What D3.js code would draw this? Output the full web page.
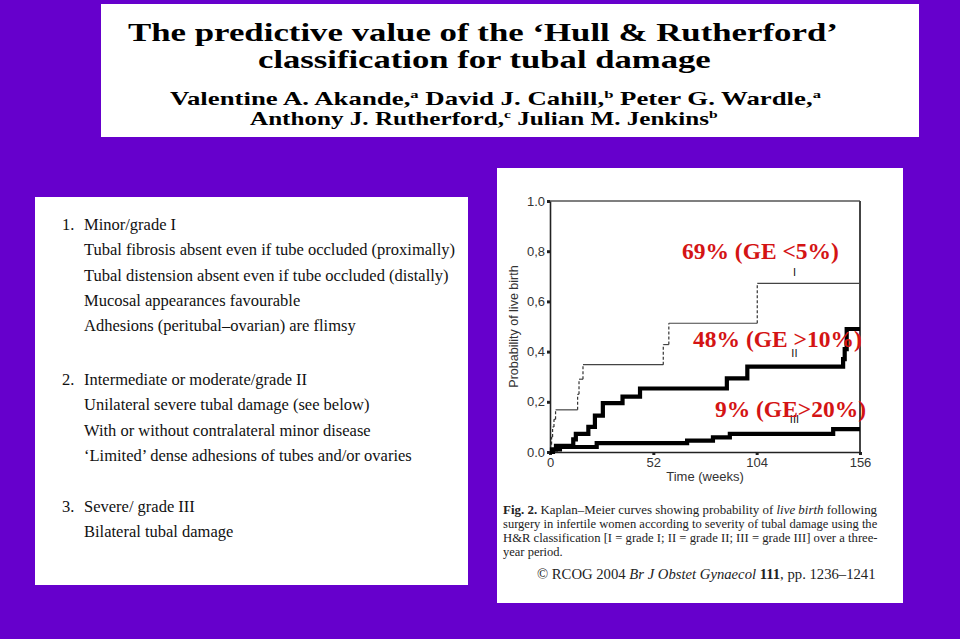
<!DOCTYPE html>
<html><head><meta charset="utf-8">
<script src="https://cdn.jsdelivr.net/npm/d3@7"></script>
<style>body{margin:0;background:#6600cc;} svg{display:block}</style>
</head><body>
<svg id="c" width="960" height="639"></svg>
<script>
// ---------------- DATA ----------------
const xTicks = [0, 52, 104, 156];
const xTickLabels = ["0", "52", "104", "156"];
const yTicks = [0, 0.2, 0.4, 0.6, 0.8, 1.0];
const yTickLabels = ["0.0", "0,2", "0,4", "0,6", "0,8", "1.0"];
const maxWeek = 156;

// Grade I (thin line, dashed risers)
const weeksI = [0, 0.3, 0.8, 1.3, 2.0, 2.8, 13.9, 14.6, 16.6, 57.0, 59.8, 104.3];
const probI  = [0, 0.03, 0.06, 0.10, 0.13, 0.168, 0.23, 0.29, 0.348, 0.428, 0.513, 0.672];
// Grade II (thick line)
const weeksII = [0, 1, 3, 11.7, 13, 19.3, 22.6, 26.6, 36.5, 45.3, 89, 99.3, 147.5, 148.3, 149.3];
const probII  = [0, 0.01, 0.025, 0.05, 0.072, 0.10, 0.145, 0.195, 0.221, 0.253, 0.293, 0.34, 0.37, 0.41, 0.49];
// Grade III (thick line)
const weeksIII = [0, 1.5, 5, 23.5, 69, 82, 90.5, 142.5];
const probIII  = [0, 0.01, 0.02, 0.035, 0.045, 0.058, 0.072, 0.091];

const curveLabels = ["I", "II", "III"];
const annotations = ["69% (GE <5%)", "48% (GE >10%)", "9% (GE>20%)"];

const titleLines = ["The predictive value of the \u2018Hull & Rutherford\u2019", "classification for tubal damage"];
const authorLines = [
  [["Valentine A. Akande,", ""], ["a", "sup"], [" David J. Cahill,", ""], ["b", "sup"], [" Peter G. Wardle,", ""], ["a", "sup"]],
  [["Anthony J. Rutherford,", ""], ["c", "sup"], [" Julian M. Jenkins", ""], ["b", "sup"]]
];
const gradeBlocks = [
  {num: "1.", lines: ["Minor/grade I", "Tubal fibrosis absent even if tube occluded (proximally)", "Tubal distension absent even if tube occluded (distally)", "Mucosal appearances favourable", "Adhesions (peritubal\u2013ovarian) are flimsy"]},
  {num: "2.", lines: ["Intermediate or moderate/grade II", "Unilateral severe tubal damage (see below)", "With or without contralateral minor disease", "\u2018Limited\u2019 dense adhesions of tubes and/or ovaries"]},
  {num: "3.", lines: ["Severe/ grade III", "Bilateral tubal damage"]}
];
const captionLines = [
  [["Fig. 2.", "b"], [" Kaplan\u2013Meier curves showing probability of ", ""], ["live birth", "i"], [" following", ""]],
  [["surgery in infertile women according to severity of tubal damage using the", ""]],
  [["H&R classification [I = grade I; II = grade II; III = grade III] over a three-", ""]],
  [["year period.", ""]]
];
const copyrightLine = [["\u00A9 RCOG 2004 ", ""], ["Br J Obstet Gynaecol", "i"], [" ", ""], ["111", "b"], [", pp. 1236\u20131241", ""]];

// ---------------- DRAWING ----------------
const SERIF = "'Liberation Serif','Times New Roman',serif";
const SANS = "'Liberation Sans',Arial,sans-serif";
const svg = d3.select("#c");
svg.append("rect").attr("width", 960).attr("height", 639).attr("fill", "#6600cc");

// panels
svg.append("rect").attr("x", 101).attr("y", 4).attr("width", 818).attr("height", 133).attr("fill", "#fff");
svg.append("rect").attr("x", 35).attr("y", 197).attr("width", 433).attr("height", 388).attr("fill", "#fff");
svg.append("rect").attr("x", 497).attr("y", 168).attr("width", 406).attr("height", 435).attr("fill", "#fff");

function fit(sel, x0, base, w) {
  const bw = sel.node().getBBox().width;
  sel.attr("transform", `translate(${x0},${base}) scale(${w / bw},1)`);
}
function runs(sel, parts, size) {
  parts.forEach(([t, s]) => {
    const ts = sel.append("tspan").text(t);
    if (s === "b") ts.attr("font-weight", "bold");
    if (s === "i") ts.attr("font-style", "italic");
    if (s === "sup") ts.attr("font-size", size * 0.62).attr("dy", -size * 0.38);
    else if (sel.attr("data-sup") === "1") { ts.attr("dy", size * 0.38); }
    sel.attr("data-sup", s === "sup" ? "1" : "0");
  });
}

// title
const tPos = [[128, 41, 710], [258, 68, 453]];
titleLines.forEach((t, i) => {
  const el = svg.append("text").attr("font-family", SERIF).attr("font-weight", "bold")
    .attr("font-size", 26).attr("fill", "#000").text(t);
  fit(el, tPos[i][0], tPos[i][1], tPos[i][2]);
});
const aPos = [[170, 105, 652], [250, 125, 468]];
authorLines.forEach((parts, i) => {
  const el = svg.append("text").attr("font-family", SERIF).attr("font-weight", "bold")
    .attr("font-size", 18).attr("fill", "#000");
  runs(el, parts, 18);
  fit(el, aPos[i][0], aPos[i][1], aPos[i][2]);
});

// left panel
const blockBase = [230, 385, 512];
const lineGap = 25.3;
gradeBlocks.forEach((b, bi) => {
  const g = svg.append("g").attr("font-family", SERIF).attr("font-size", 16.5).attr("fill", "#111");
  g.append("text").attr("x", 62).attr("y", blockBase[bi]).text(b.num);
  b.lines.forEach((l, li) => {
    g.append("text").attr("x", 84).attr("y", blockBase[bi] + li * lineGap).text(l);
  });
});

// chart
const x = d3.scaleLinear().domain([0, maxWeek]).range([550, 860]);
const y = d3.scaleLinear().domain([0, 1]).range([452, 201]);

svg.append("line").attr("x1", x(0)).attr("x2", x(maxWeek)).attr("y1", y(1)).attr("y2", y(1))
  .attr("stroke", "#555").attr("stroke-width", 1.5);
svg.append("line").attr("x1", x(maxWeek)).attr("x2", x(maxWeek)).attr("y1", y(1)).attr("y2", y(0))
  .attr("stroke", "#444").attr("stroke-width", 2);

const gx = svg.append("g").attr("transform", `translate(0,${y(0)})`)
  .call(d3.axisBottom(x).tickValues(xTicks).tickFormat((d, i) => xTickLabels[i]).tickSize(3).tickSizeOuter(0).tickPadding(3));
const gy = svg.append("g").attr("transform", `translate(${x(0)},0)`)
  .call(d3.axisLeft(y).tickValues(yTicks).tickFormat((d, i) => yTickLabels[i]).tickSize(3).tickSizeOuter(0).tickPadding(2));
[gx, gy].forEach(g => {
  g.select(".domain").attr("stroke", "#222").attr("stroke-width", 1.6);
  g.selectAll(".tick line").attr("stroke", "#222").attr("stroke-width", 3);
  g.selectAll(".tick text").attr("font-family", SANS).attr("font-size", 13).attr("fill", "#333");
});

svg.append("text").attr("transform", `translate(518,${(y(0) + y(1)) / 2}) rotate(-90)`)
  .attr("text-anchor", "middle").attr("font-family", SANS).attr("font-size", 12.5).attr("fill", "#333")
  .text("Probability of live birth");
svg.append("text").attr("x", 705).attr("y", 481).attr("text-anchor", "middle")
  .attr("font-family", SANS).attr("font-size", 13).attr("fill", "#333").text("Time (weeks)");

// grade I: solid horizontals, dashed risers
const hI = weeksI.map((w, i) => [w, i < weeksI.length - 1 ? weeksI[i + 1] : maxWeek, probI[i]]);
svg.append("g").selectAll("line").data(hI).join("line")
  .attr("x1", d => x(d[0])).attr("x2", d => x(d[1])).attr("y1", d => y(d[2])).attr("y2", d => y(d[2]))
  .attr("stroke", "#444").attr("stroke-width", 1.2);
const vI = weeksI.slice(1).map((w, i) => [w, probI[i], probI[i + 1]]);
svg.append("g").selectAll("line").data(vI).join("line")
  .attr("x1", d => x(d[0])).attr("x2", d => x(d[0])).attr("y1", d => y(d[1])).attr("y2", d => y(d[2]))
  .attr("stroke", "#333").attr("stroke-width", 1.2).attr("stroke-dasharray", "3,2");

const step = d3.line().x(d => x(d[0])).y(d => y(d[1])).curve(d3.curveStepAfter);
[[weeksII, probII], [weeksIII, probIII]].forEach(([ws, ps]) => {
  const pts = ws.map((w, i) => [w, ps[i]]);
  pts.push([maxWeek, ps[ps.length - 1]]);
  svg.append("path").attr("d", step(pts)).attr("fill", "none").attr("stroke", "#000")
    .attr("stroke-width", 4.2);
});

// curve labels
const labelPos = [[123, 0.70], [123, 0.38], [123, 0.115]];
curveLabels.forEach((t, i) => {
  svg.append("text").attr("x", x(labelPos[i][0])).attr("y", y(labelPos[i][1]))
    .attr("text-anchor", "middle").attr("font-family", SANS).attr("font-size", 11).attr("fill", "#111").text(t);
});

// red annotations
const annPos = [[66.4, 0.768], [72.0, 0.42], [83.0, 0.14]];
annotations.forEach((t, i) => {
  svg.append("text").attr("x", x(annPos[i][0])).attr("y", y(annPos[i][1]))
    .attr("font-family", SERIF).attr("font-weight", "bold").attr("font-size", 23.5)
    .attr("fill", "#d41414").text(t);
});

// caption
const capBase = [514, 528, 542, 556];
captionLines.forEach((parts, i) => {
  const el = svg.append("text").attr("font-family", SERIF).attr("font-size", 12.5).attr("fill", "#222");
  runs(el, parts, 12.5);
  if (i < 3) fit(el, 503, capBase[i], 375);
  else el.attr("transform", `translate(503,${capBase[i]})`);
});
const cp = svg.append("text").attr("font-family", SERIF).attr("font-size", 15).attr("fill", "#222");
runs(cp, copyrightLine, 15);
fit(cp, 537, 579, 339);
</script>
</body></html>
